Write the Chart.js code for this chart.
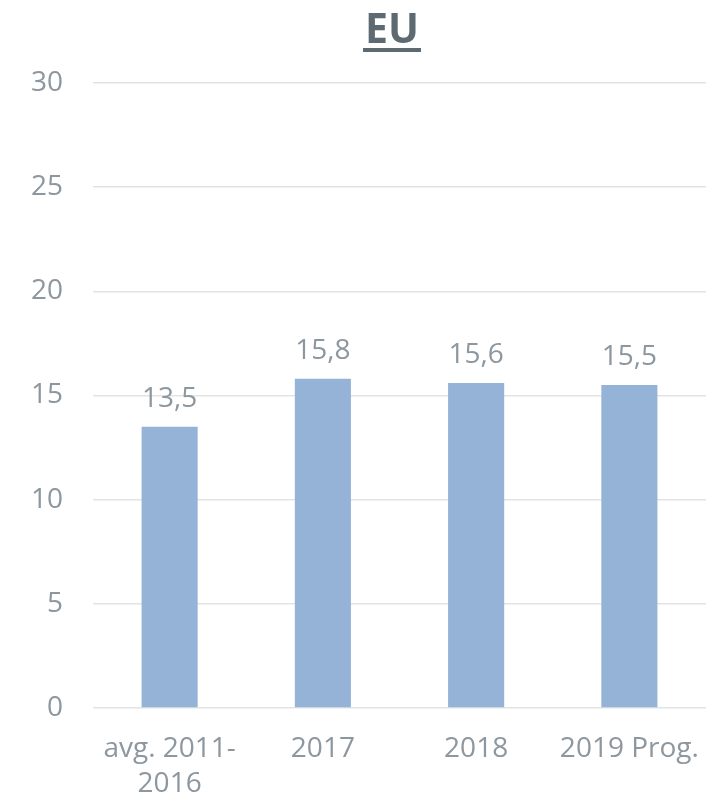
<!DOCTYPE html>
<html>
<head>
<meta charset="utf-8">
<script src="https://cdn.jsdelivr.net/npm/chart.js@4.4.1/dist/chart.umd.min.js"></script>
<style>
html,body{margin:0;padding:0;background:#fff;}
#wrap{width:718px;height:801px;position:relative;}
</style>
</head>
<body>
<div id="wrap"><canvas id="c" width="718" height="801"></canvas></div>
<script>
const titleText = "EU";
const categories = [["avg. 2011-","2016"], "2017", "2018", "2019 Prog."];
const values = [13.5, 15.8, 15.6, 15.5];
const yTicks = [0, 5, 10, 15, 20, 25, 30];

const textColor = "#8d979f";
const titleColor = "#5e6a72";
const barColor = "#95b3d7";
const font = "'Open Sans', 'Noto Sans', sans-serif";

const labelsPlugin = {
  id: "valueLabels",
  afterDatasetsDraw(chart) {
    const ctx = chart.ctx;
    const meta = chart.getDatasetMeta(0);
    ctx.save();
    ctx.font = "28px " + font;
    ctx.fillStyle = textColor;
    ctx.textAlign = "center";
    ctx.textBaseline = "alphabetic";
    meta.data.forEach((bar, i) => {
      const txt = values[i].toFixed(1).replace(".", ",");
      ctx.fillText(txt, bar.x, bar.y - 20);
    });
    ctx.restore();
  }
};

const titlePlugin = {
  id: "ulTitle",
  afterDraw(chart) {
    const ctx = chart.ctx;
    ctx.save();
    ctx.font = "bold 41px " + font;
    ctx.fillStyle = titleColor;
    ctx.textAlign = "center";
    ctx.textBaseline = "alphabetic";
    const x = 392, y = 43;
    ctx.fillText(titleText, x, y);
    const w = ctx.measureText(titleText).width;
    ctx.fillRect(x - w / 2 - 2, 48, w + 4, 4);
    ctx.restore();
  }
};

new Chart(document.getElementById("c"), {
  type: "bar",
  data: {
    labels: categories,
    datasets: [{
      data: values,
      backgroundColor: barColor,
      barPercentage: 0.366,
      categoryPercentage: 1.0
    }]
  },
  options: {
    responsive: false,
    animation: false,
    devicePixelRatio: 1,
    layout: { padding: { top: 83, left: 0, right: 12, bottom: 0 } },
    plugins: { legend: { display: false }, tooltip: { enabled: false }, title: { display: false } },
    scales: {
      x: {
        grid: { display: false },
        border: { display: false },
        afterFit(scale) { scale.paddingLeft = 0; scale.paddingRight = 0; scale.height = 93; },
        ticks: {
          color: textColor,
          font: { family: font, size: 28, lineHeight: 1.25 },
          padding: 16,
          maxRotation: 0,
          autoSkip: false
        }
      },
      y: {
        min: 0, max: 30,
        afterBuildTicks(scale) { scale.ticks = yTicks.map(v => ({ value: v })); },
        afterFit(scale) { scale.paddingTop = 0; scale.paddingBottom = 0; scale.width = 93; },
        grid: { color: "#e2e4e4", lineWidth: 1.5, drawTicks: false },
        border: { display: false },
        ticks: {
          color: textColor,
          font: { family: font, size: 28 },
          padding: 30
        }
      }
    }
  },
  plugins: [labelsPlugin, titlePlugin]
});
</script>
</body>
</html>
